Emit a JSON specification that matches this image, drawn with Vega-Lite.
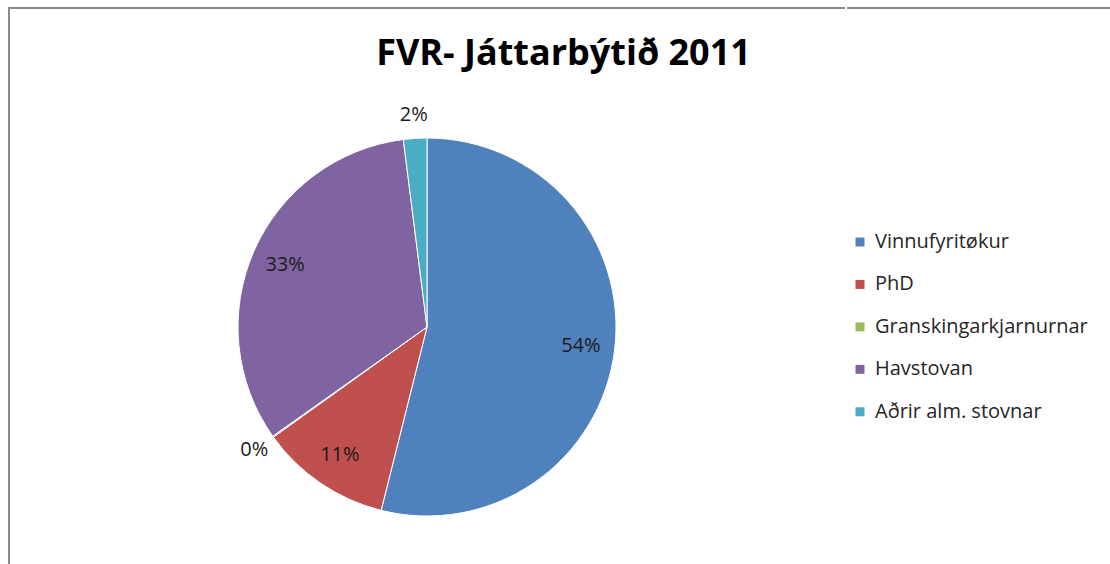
{
  "$schema": "https://vega.github.io/schema/vega-lite/v6.json",
  "autosize": {"type": "pad"},
  "padding": {"left": 8, "top": 7, "right": 0, "bottom": 0},
  "background": "white",
  "spacing": 0,
  "title": {
    "text": "FVR- Játtarbýtið 2011",
    "font": "Open Sans",
    "fontSize": 36,
    "fontWeight": "bold",
    "color": "#000000",
    "anchor": "middle",
    "frame": "bounds",
    "dx": 3,
    "offset": -94,
    "baseline": "alphabetic"
  },
  "data": {
    "values": [
      {"category": "Vinnufyritøkur", "share": 0.539, "n": 1},
      {"category": "PhD", "share": 0.112, "n": 2},
      {"category": "Granskingarkjarnurnar", "share": 0.001, "n": 3},
      {"category": "Havstovan", "share": 0.328, "n": 4},
      {"category": "Aðrir alm. stovnar", "share": 0.02, "n": 5}
    ]
  },
  "hconcat": [
    {
      "width": 836,
      "height": 638,
      "view": {"stroke": "#8a8a8a", "strokeWidth": 2, "strokeDash": [836, 1474, 638]},
      "encoding": {
        "theta": {"field": "share", "type": "quantitative", "stack": true},
        "order": {"field": "n", "type": "quantitative"},
        "color": {
          "field": "category",
          "type": "nominal",
          "scale": {
            "domain": ["Vinnufyritøkur", "PhD", "Granskingarkjarnurnar", "Havstovan", "Aðrir alm. stovnar"],
            "range": ["#4F81BD", "#C0504D", "#9BBB59", "#8064A2", "#4BACC6"]
          },
          "legend": {
            "orient": "none",
            "legendX": 841,
            "legendY": 224,
            "title": null,
            "symbolType": "square",
            "symbolSize": 81,
            "symbolStrokeWidth": 0,
            "labelFont": "Open Sans",
            "labelFontSize": 20,
            "labelColor": "#262626",
            "labelOffset": 5,
            "labelLimit": 300,
            "rowPadding": 22.45
          }
        }
      },
      "layer": [
        {"mark": {"type": "arc", "outerRadius": 189, "stroke": "white", "strokeWidth": 1}},
        {
          "mark": {
            "type": "text",
            "font": "Open Sans",
            "fontSize": 20,
            "radius": {"expr": "datum.share < 0.05 ? 212 : 155"}
          },
          "encoding": {
            "text": {"field": "share", "type": "quantitative", "format": ".0%"},
            "color": {"value": "#1a1a1a"}
          }
        }
      ]
    },
    {
      "width": 265,
      "height": 638,
      "view": {"stroke": "#8a8a8a", "strokeWidth": 2, "strokeDash": [265, 2000]},
      "mark": {"type": "text"},
      "encoding": {}
    }
  ]
}
